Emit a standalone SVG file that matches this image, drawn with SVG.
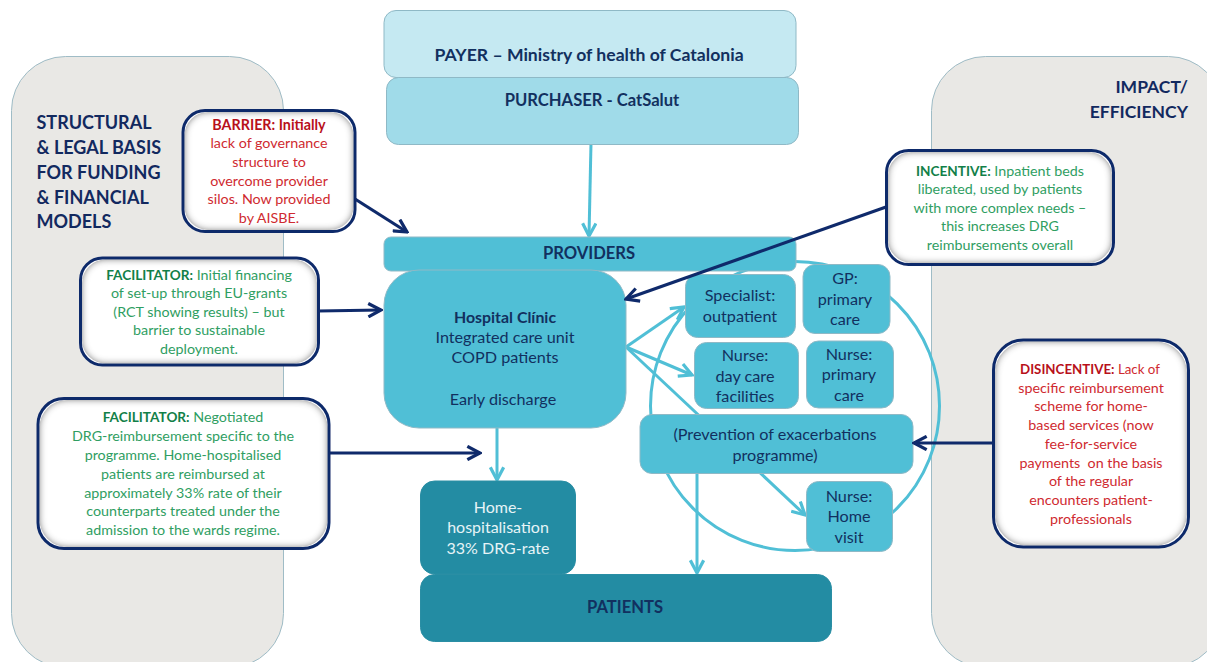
<svg xmlns="http://www.w3.org/2000/svg" width="1207" height="662" viewBox="0 0 1207 662">
<defs>
<style>
text{font-family:"Lato","Liberation Sans",sans-serif;text-anchor:middle}
.panel{fill:#e9e8e5;stroke:#9fbcc6;stroke-width:1}
.n{stroke:#8fb9c6;stroke-width:1}
.mid{fill:#50bfd6}
.dark{fill:#238ca3;stroke:#2a8ea4}
.nt{font-size:16.2px;fill:#12305f}
.wt{font-size:16px;fill:#e6f4f7}
.head{font-size:18px;font-weight:700;fill:#12295f;text-anchor:start}
.hr{text-anchor:end;font-size:17.5px}
.big{font-size:17.6px;font-weight:700;fill:#12305f}
.sm{font-size:16.600px}
.call{fill:#fff;stroke:#0f2a6b;stroke-width:3;filter:url(#inner)}
.g{font-size:14.3px;fill:#2f9e62}
.r{font-size:14.3px;fill:#cf2a30}
.b{font-weight:700}
.gb{fill:#128048;font-size:13.600px}
.rb{fill:#b8101a}
.rs{font-size:13.300px}
.lc{fill:none;stroke:#50bfd6;stroke-width:3}
.la{fill:none;stroke:#50bfd6;stroke-width:3;marker-end:url(#ah)}
.da{fill:none;stroke:#0f2a6b;stroke-width:3.200;marker-end:url(#dh)}
</style>
<marker id="ah" viewBox="0 0 12 12" refX="10.5" refY="6" markerWidth="16" markerHeight="16" markerUnits="userSpaceOnUse" orient="auto"><path d="M1 1L10.5 6L1 11" fill="none" stroke="#50bfd6" stroke-width="2.400"/></marker>
<marker id="dh" viewBox="0 0 12 12" refX="10.5" refY="6" markerWidth="16" markerHeight="16" markerUnits="userSpaceOnUse" orient="auto"><path d="M1 1L10.5 6L1 11" fill="none" stroke="#0f2a6b" stroke-width="2.400"/></marker>
<filter id="inner" x="-5%" y="-5%" width="110%" height="110%">
<feMorphology in="SourceAlpha" operator="erode" radius="3" result="a"/>
<feFlood flood-color="#444" result="f"/>
<feComposite in="f" in2="a" operator="out" result="o"/>
<feGaussianBlur in="o" stdDeviation="3.500" result="bl"/>
<feComposite in="bl" in2="a" operator="in" result="s"/>
<feMerge><feMergeNode in="SourceGraphic"/><feMergeNode in="s"/></feMerge>
</filter>
</defs>
<rect width="1207" height="662" fill="#fff"/>
<g id="panel-left"><rect class="panel" x="11.500" y="56.500" width="272" height="611" rx="54"/>
<text class="head" x="36.500" y="129">STRUCTURAL</text><text class="head" x="36.500" y="154">&amp; LEGAL BASIS</text><text class="head" x="36.500" y="179">FOR FUNDING</text><text class="head" x="36.500" y="204">&amp; FINANCIAL</text><text class="head" x="36.500" y="228">MODELS</text></g>
<g id="panel-right"><rect class="panel" x="931.500" y="56.500" width="291" height="611" rx="54"/>
<text class="head hr" x="1188" y="93">IMPACT/</text><text class="head hr" x="1188" y="118">EFFICIENCY</text></g>
<g id="connectors">
<circle class="lc" cx="795" cy="406" r="144.500"/>
<path class="la" d="M591 143L589 236"/>
<path class="la" d="M497 428V480"/>
<path class="la" d="M626 347L684 307"/>
<path class="la" d="M626 347L692 375"/>
<path class="la" d="M626 347L805 515"/>
<path class="la" d="M697 473V573"/>
</g>
<g id="payer"><rect class="n" x="384" y="10.500" width="412" height="67" rx="12" fill="#c5e9f2"/><text class="big" x="589" y="61">PAYER – Ministry of health of Catalonia</text></g>
<g id="purchaser"><rect class="n" x="386.500" y="77.500" width="412" height="67" rx="12" fill="#a0dbe9"/><text class="big sm" x="592" y="106">PURCHASER - CatSalut</text></g>
<g id="providers"><rect class="n mid" x="384" y="237" width="412" height="34" rx="7"/><text class="big sm" x="589" y="259">PROVIDERS</text></g>
<g id="hospital"><rect class="n mid" x="384" y="270" width="242" height="158" rx="35"/><text class="nt b" x="505" y="323" font-weight="700" style="font-size:15.900px">Hospital Clínic</text><text class="nt" x="505" y="343">Integrated care unit</text><text class="nt" x="505" y="363">COPD patients</text><text class="nt" x="503" y="405">Early discharge</text></g>
<g id="specialist"><rect class="n mid" x="685.500" y="274.500" width="110" height="63" rx="12"/><text class="nt" x="740" y="301">Specialist:</text><text class="nt" x="740" y="322">outpatient</text></g>
<g id="gp"><rect class="n mid" x="803" y="264.500" width="87" height="69" rx="12"/><text class="nt" x="845" y="284">GP:</text><text class="nt" x="845" y="305">primary</text><text class="nt" x="845" y="325">care</text></g>
<g id="nurse-day"><rect class="n mid" x="694.500" y="342.500" width="104" height="66" rx="12"/><text class="nt" x="745" y="361">Nurse:</text><text class="nt" x="745" y="382">day care</text><text class="nt" x="745" y="402">facilities</text></g>
<g id="nurse-primary"><rect class="n mid" x="806.500" y="341" width="87" height="67" rx="12"/><text class="nt" x="849" y="360">Nurse:</text><text class="nt" x="849" y="380">primary</text><text class="nt" x="849" y="401">care</text></g>
<g id="prevention"><rect class="n mid" x="640" y="414.500" width="273" height="59" rx="12"/><text class="nt" x="775" y="440">(Prevention of exacerbations</text><text class="nt" x="775" y="461">programme)</text></g>
<g id="nurse-home"><rect class="n mid" x="806.500" y="481.500" width="86" height="70" rx="12"/><text class="nt" x="849" y="502">Nurse:</text><text class="nt" x="849" y="522">Home</text><text class="nt" x="849" y="543">visit</text></g>
<g id="home-hospitalisation"><rect class="dark" x="420.500" y="481" width="155" height="93" rx="14"/><text class="wt" x="498" y="513">Home-</text><text class="wt" x="498" y="533">hospitalisation</text><text class="wt" x="498" y="554">33% DRG-rate</text></g>
<g id="patients"><rect class="dark" x="420.500" y="574.500" width="411" height="67" rx="14"/><text class="big sm" x="625" y="613">PATIENTS</text></g>
<g id="barrier"><rect class="call" x="183" y="110.500" width="172" height="121" rx="22"/>
<text class="r" x="269" y="130"><tspan class="b rb">BARRIER: Initially</tspan></text><text class="r" x="269" y="148">lack of governance</text><text class="r" x="269" y="167">structure to</text><text class="r" x="269" y="186">overcome provider</text><text class="r" x="269" y="204">silos. Now provided</text><text class="r" x="269" y="223">by AISBE.</text></g>
<g id="facilitator-1"><rect class="call" x="80.500" y="258" width="238" height="107" rx="22"/>
<text class="g" x="199" y="280"><tspan class="b gb">FACILITATOR:</tspan> Initial financing</text><text class="g" x="199" y="298">of set-up through EU-grants</text><text class="g" x="199" y="317">(RCT showing results) – but</text><text class="g" x="199" y="335">barrier to sustainable</text><text class="g" x="199" y="354">deployment.</text></g>
<g id="facilitator-2"><rect class="call" x="38" y="398.500" width="291" height="150" rx="26"/>
<text class="g" x="183" y="422"><tspan class="b gb">FACILITATOR:</tspan> Negotiated</text><text class="g" x="183" y="441">DRG-reimbursement specific to the</text><text class="g" x="183" y="460">programme. Home-hospitalised</text><text class="g" x="183" y="479">patients are reimbursed at</text><text class="g" x="183" y="498">approximately 33% rate of their</text><text class="g" x="183" y="516">counterparts treated under the</text><text class="g" x="183" y="535">admission to the wards regime.</text></g>
<g id="incentive"><rect class="call" x="886.500" y="150.500" width="227" height="114" rx="22"/>
<text class="g" x="1000" y="176"><tspan class="b gb">INCENTIVE:</tspan> Inpatient beds</text><text class="g" x="1000" y="194">liberated, used by patients</text><text class="g" x="1000" y="213">with more complex needs –</text><text class="g" x="1000" y="231">this increases DRG</text><text class="g" x="1000" y="250">reimbursements overall</text></g>
<g id="disincentive"><rect class="call" x="993.500" y="340" width="195" height="207" rx="30"/>
<text class="r rs" x="1090" y="374"><tspan class="b rb">DISINCENTIVE:</tspan> Lack of</text><text class="r" x="1091" y="393">specific reimbursement</text><text class="r" x="1091" y="411">scheme for home-</text><text class="r" x="1091" y="430">based services (now</text><text class="r" x="1091" y="449">fee-for-service</text><text class="r" x="1091" y="468" xml:space="preserve">payments  on the basis</text><text class="r" x="1091" y="486">of the regular</text><text class="r" x="1091" y="505">encounters patient-</text><text class="r" x="1091" y="524">professionals</text></g>
<g id="influence-connectors">
<path class="da" d="M355 199L407 232"/>
<path class="da" d="M318 311L381 310"/>
<path class="da" d="M329 453H480"/>
<path class="da" d="M886 207L626 299"/>
<path class="da" d="M993 443H914"/>
</g>
</svg>
